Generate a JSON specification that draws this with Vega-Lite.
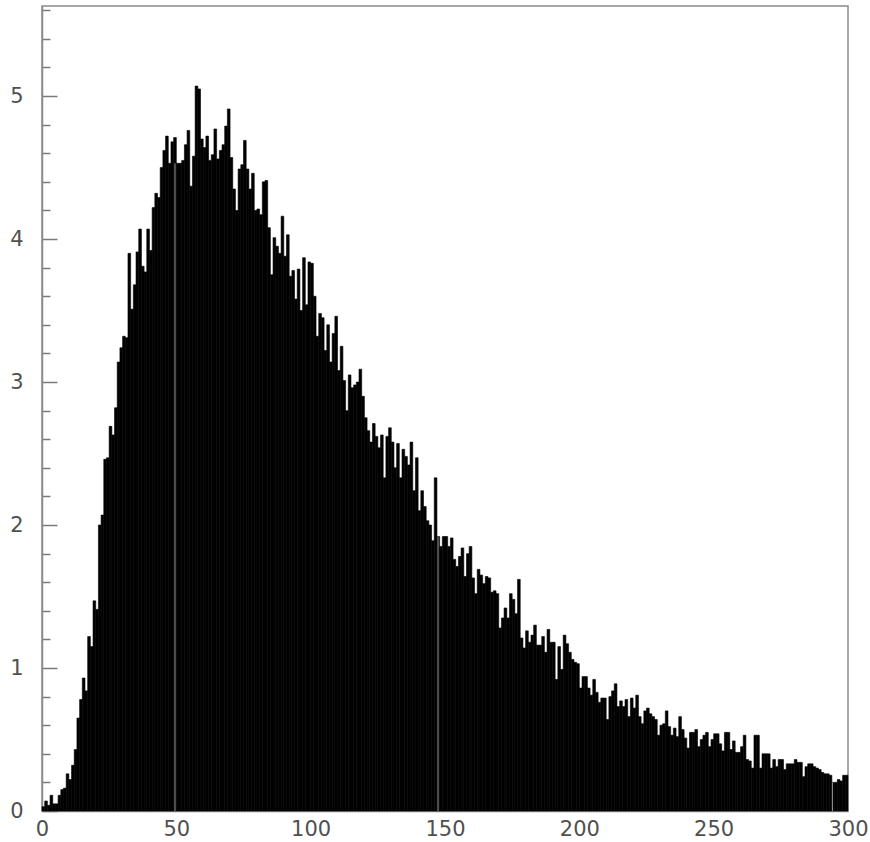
{
  "$schema": "https://vega.github.io/schema/vega-lite/v6.json",
  "width": 806,
  "height": 805,
  "autosize": {"type": "none"},
  "padding": {"left": 42, "top": 6, "right": 22, "bottom": 31},
  "background": "white",
  "config": {
    "view": {"stroke": "#8a8a8a", "strokeWidth": 1.5},
    "axis": {
      "labelFont": "DejaVu Sans",
      "labelFontSize": 21,
      "labelColor": "#505050",
      "domainColor": "#8a8a8a",
      "domainWidth": 1.5,
      "grid": false,
      "title": null,
      "labelOverlap": false
    }
  },
  "datasets": {
    "hist": [
      {"b":0,"e":1,"v":0.03},{"b":1,"e":2,"v":0.07},{"b":2,"e":3,"v":0.04},{"b":3,"e":4,"v":0.11},{"b":4,"e":5,"v":0.05},{"b":5,"e":6,"v":0.05},{"b":6,"e":7,"v":0.11},{"b":7,"e":8,"v":0.15},{"b":8,"e":9,"v":0.16},{"b":9,"e":10,"v":0.26},
      {"b":10,"e":11,"v":0.22},{"b":11,"e":12,"v":0.32},{"b":12,"e":13,"v":0.43},{"b":13,"e":14,"v":0.65},{"b":14,"e":15,"v":0.78},{"b":15,"e":16,"v":0.93},{"b":16,"e":17,"v":0.84},{"b":17,"e":18,"v":1.22},{"b":18,"e":19,"v":1.15},{"b":19,"e":20,"v":1.47},
      {"b":20,"e":21,"v":1.41},{"b":21,"e":22,"v":2.0},{"b":22,"e":23,"v":2.07},{"b":23,"e":24,"v":2.46},{"b":24,"e":25,"v":2.47},{"b":25,"e":26,"v":2.69},{"b":26,"e":27,"v":2.63},{"b":27,"e":28,"v":2.82},{"b":28,"e":29,"v":3.14},{"b":29,"e":30,"v":3.24},
      {"b":30,"e":31,"v":3.32},{"b":31,"e":32,"v":3.31},{"b":32,"e":33,"v":3.90},{"b":33,"e":34,"v":3.51},{"b":34,"e":35,"v":3.68},{"b":35,"e":36,"v":3.91},{"b":36,"e":37,"v":4.07},{"b":37,"e":38,"v":3.81},{"b":38,"e":39,"v":3.77},{"b":39,"e":40,"v":4.07},
      {"b":40,"e":41,"v":3.92},{"b":41,"e":42,"v":4.22},{"b":42,"e":43,"v":4.32},{"b":43,"e":44,"v":4.29},{"b":44,"e":45,"v":4.50},{"b":45,"e":46,"v":4.62},{"b":46,"e":47,"v":4.72},{"b":47,"e":48,"v":4.53},{"b":48,"e":49,"v":4.68},{"b":49,"e":50,"v":4.71},
      {"b":50,"e":51,"v":4.53},{"b":51,"e":52,"v":4.53},{"b":52,"e":53,"v":4.55},{"b":53,"e":54,"v":4.66},{"b":54,"e":55,"v":4.76},{"b":55,"e":56,"v":4.37},{"b":56,"e":57,"v":4.58},{"b":57,"e":58,"v":5.07},{"b":58,"e":59,"v":5.05},{"b":59,"e":60,"v":4.70},
      {"b":60,"e":61,"v":4.64},{"b":61,"e":62,"v":4.72},{"b":62,"e":63,"v":4.55},{"b":63,"e":64,"v":4.59},{"b":64,"e":65,"v":4.77},{"b":65,"e":66,"v":4.56},{"b":66,"e":67,"v":4.62},{"b":67,"e":68,"v":4.66},{"b":68,"e":69,"v":4.79},{"b":69,"e":70,"v":4.91},
      {"b":70,"e":71,"v":4.57},{"b":71,"e":72,"v":4.35},{"b":72,"e":73,"v":4.20},{"b":73,"e":74,"v":4.49},{"b":74,"e":75,"v":4.52},{"b":75,"e":76,"v":4.69},{"b":76,"e":77,"v":4.49},{"b":77,"e":78,"v":4.35},{"b":78,"e":79,"v":4.46},{"b":79,"e":80,"v":4.20},
      {"b":80,"e":81,"v":4.21},{"b":81,"e":82,"v":4.17},{"b":82,"e":83,"v":4.40},{"b":83,"e":84,"v":4.41},{"b":84,"e":85,"v":4.08},{"b":85,"e":86,"v":3.75},{"b":86,"e":87,"v":4.01},{"b":87,"e":88,"v":3.95},{"b":88,"e":89,"v":3.90},{"b":89,"e":90,"v":4.16},
      {"b":90,"e":91,"v":3.88},{"b":91,"e":92,"v":4.03},{"b":92,"e":93,"v":3.74},{"b":93,"e":94,"v":3.78},{"b":94,"e":95,"v":3.58},{"b":95,"e":96,"v":3.79},{"b":96,"e":97,"v":3.50},{"b":97,"e":98,"v":3.87},{"b":98,"e":99,"v":3.54},{"b":99,"e":100,"v":3.84},
      {"b":100,"e":101,"v":3.83},{"b":101,"e":102,"v":3.60},{"b":102,"e":103,"v":3.32},{"b":103,"e":104,"v":3.48},{"b":104,"e":105,"v":3.45},{"b":105,"e":106,"v":3.22},{"b":106,"e":107,"v":3.40},{"b":107,"e":108,"v":3.14},{"b":108,"e":109,"v":3.34},{"b":109,"e":110,"v":3.46},
      {"b":110,"e":111,"v":3.08},{"b":111,"e":112,"v":3.25},{"b":112,"e":113,"v":3.01},{"b":113,"e":114,"v":2.80},{"b":114,"e":115,"v":3.05},{"b":115,"e":116,"v":2.96},{"b":116,"e":117,"v":2.98},{"b":117,"e":118,"v":3.00},{"b":118,"e":119,"v":3.09},{"b":119,"e":120,"v":2.90},
      {"b":120,"e":121,"v":2.75},{"b":121,"e":122,"v":2.66},{"b":122,"e":123,"v":2.58},{"b":123,"e":124,"v":2.71},{"b":124,"e":125,"v":2.62},{"b":125,"e":126,"v":2.54},{"b":126,"e":127,"v":2.63},{"b":127,"e":128,"v":2.33},{"b":128,"e":129,"v":2.62},{"b":129,"e":130,"v":2.68},
      {"b":130,"e":131,"v":2.58},{"b":131,"e":132,"v":2.40},{"b":132,"e":133,"v":2.57},{"b":133,"e":134,"v":2.33},{"b":134,"e":135,"v":2.53},{"b":135,"e":136,"v":2.48},{"b":136,"e":137,"v":2.42},{"b":137,"e":138,"v":2.58},{"b":138,"e":139,"v":2.24},{"b":139,"e":140,"v":2.47},
      {"b":140,"e":141,"v":2.10},{"b":141,"e":142,"v":2.24},{"b":142,"e":143,"v":2.13},{"b":143,"e":144,"v":2.03},{"b":144,"e":145,"v":2.00},{"b":145,"e":146,"v":1.89},{"b":146,"e":147,"v":2.33},{"b":147,"e":148,"v":1.92},{"b":148,"e":149,"v":1.85},{"b":149,"e":150,"v":1.92},
      {"b":150,"e":151,"v":1.92},{"b":151,"e":152,"v":1.85},{"b":152,"e":153,"v":1.91},{"b":153,"e":154,"v":1.76},{"b":154,"e":155,"v":1.71},{"b":155,"e":156,"v":1.78},{"b":156,"e":157,"v":1.84},{"b":157,"e":158,"v":1.64},{"b":158,"e":159,"v":1.80},{"b":159,"e":160,"v":1.85},
      {"b":160,"e":161,"v":1.63},{"b":161,"e":162,"v":1.52},{"b":162,"e":163,"v":1.69},{"b":163,"e":164,"v":1.65},{"b":164,"e":165,"v":1.59},{"b":165,"e":166,"v":1.64},{"b":166,"e":167,"v":1.63},{"b":167,"e":168,"v":1.53},{"b":168,"e":169,"v":1.54},{"b":169,"e":170,"v":1.52},
      {"b":170,"e":171,"v":1.28},{"b":171,"e":172,"v":1.35},{"b":172,"e":173,"v":1.42},{"b":173,"e":174,"v":1.35},{"b":174,"e":175,"v":1.52},{"b":175,"e":176,"v":1.48},{"b":176,"e":177,"v":1.38},{"b":177,"e":178,"v":1.62},{"b":178,"e":179,"v":1.21},{"b":179,"e":180,"v":1.14},
      {"b":180,"e":181,"v":1.26},{"b":181,"e":182,"v":1.18},{"b":182,"e":183,"v":1.23},{"b":183,"e":184,"v":1.30},{"b":184,"e":185,"v":1.16},{"b":185,"e":186,"v":1.16},{"b":186,"e":187,"v":1.22},{"b":187,"e":188,"v":1.11},{"b":188,"e":189,"v":1.27},{"b":189,"e":190,"v":1.18},
      {"b":190,"e":191,"v":1.18},{"b":191,"e":192,"v":0.92},{"b":192,"e":193,"v":1.15},{"b":193,"e":194,"v":0.99},{"b":194,"e":195,"v":1.23},{"b":195,"e":196,"v":1.17},{"b":196,"e":197,"v":1.11},{"b":197,"e":198,"v":1.06},{"b":198,"e":199,"v":1.04},{"b":199,"e":200,"v":1.03},
      {"b":200,"e":201,"v":0.86},{"b":201,"e":202,"v":0.94},{"b":202,"e":203,"v":0.94},{"b":203,"e":204,"v":0.86},{"b":204,"e":205,"v":0.81},{"b":205,"e":206,"v":0.92},{"b":206,"e":207,"v":0.83},{"b":207,"e":208,"v":0.76},{"b":208,"e":209,"v":0.79},{"b":209,"e":210,"v":0.79},
      {"b":210,"e":211,"v":0.64},{"b":211,"e":212,"v":0.80},{"b":212,"e":213,"v":0.84},{"b":213,"e":214,"v":0.89},{"b":214,"e":215,"v":0.73},{"b":215,"e":216,"v":0.77},{"b":216,"e":217,"v":0.73},{"b":217,"e":218,"v":0.78},{"b":218,"e":219,"v":0.66},{"b":219,"e":220,"v":0.79},
      {"b":220,"e":221,"v":0.72},{"b":221,"e":222,"v":0.81},{"b":222,"e":223,"v":0.66},{"b":223,"e":224,"v":0.61},{"b":224,"e":225,"v":0.70},{"b":225,"e":226,"v":0.72},{"b":226,"e":227,"v":0.68},{"b":227,"e":228,"v":0.66},{"b":228,"e":229,"v":0.64},{"b":229,"e":230,"v":0.53},
      {"b":230,"e":231,"v":0.60},{"b":231,"e":232,"v":0.61},{"b":232,"e":233,"v":0.70},{"b":233,"e":234,"v":0.59},{"b":234,"e":235,"v":0.53},{"b":235,"e":236,"v":0.58},{"b":236,"e":237,"v":0.52},{"b":237,"e":238,"v":0.66},{"b":238,"e":239,"v":0.57},{"b":239,"e":240,"v":0.51},
      {"b":240,"e":241,"v":0.44},{"b":241,"e":242,"v":0.55},{"b":242,"e":243,"v":0.55},{"b":243,"e":244,"v":0.57},{"b":244,"e":245,"v":0.45},{"b":245,"e":246,"v":0.50},{"b":246,"e":247,"v":0.53},{"b":247,"e":248,"v":0.55},{"b":248,"e":249,"v":0.45},{"b":249,"e":250,"v":0.50},
      {"b":250,"e":251,"v":0.54},{"b":251,"e":252,"v":0.54},{"b":252,"e":253,"v":0.47},{"b":253,"e":254,"v":0.42},{"b":254,"e":255,"v":0.55},{"b":255,"e":256,"v":0.55},{"b":256,"e":257,"v":0.43},{"b":257,"e":258,"v":0.49},{"b":258,"e":259,"v":0.41},{"b":259,"e":260,"v":0.41},
      {"b":260,"e":261,"v":0.45},{"b":261,"e":262,"v":0.53},{"b":262,"e":263,"v":0.36},{"b":263,"e":264,"v":0.35},{"b":264,"e":265,"v":0.30},{"b":265,"e":266,"v":0.53},{"b":266,"e":267,"v":0.53},{"b":267,"e":268,"v":0.30},{"b":268,"e":269,"v":0.40},{"b":269,"e":270,"v":0.40},
      {"b":270,"e":271,"v":0.40},{"b":271,"e":272,"v":0.30},{"b":272,"e":273,"v":0.36},{"b":273,"e":274,"v":0.31},{"b":274,"e":275,"v":0.36},{"b":275,"e":276,"v":0.36},{"b":276,"e":277,"v":0.29},{"b":277,"e":278,"v":0.33},{"b":278,"e":279,"v":0.33},{"b":279,"e":280,"v":0.33},
      {"b":280,"e":281,"v":0.36},{"b":281,"e":282,"v":0.34},{"b":282,"e":283,"v":0.34},{"b":283,"e":284,"v":0.24},{"b":284,"e":285,"v":0.31},{"b":285,"e":286,"v":0.33},{"b":286,"e":287,"v":0.33},{"b":287,"e":288,"v":0.31},{"b":288,"e":289,"v":0.30},{"b":289,"e":290,"v":0.29},
      {"b":290,"e":291,"v":0.27},{"b":291,"e":292,"v":0.26},{"b":292,"e":293,"v":0.26},{"b":293,"e":294,"v":0.25},{"b":294,"e":295,"v":0.20},{"b":295,"e":296,"v":0.20},{"b":296,"e":297,"v":0.22},{"b":297,"e":298,"v":0.21},{"b":298,"e":299,"v":0.25},{"b":299,"e":300,"v":0.25}
    ],
    "seams": [
      {"b": 49.5, "v": 4.53},
      {"b": 147.4, "v": 1.92},
      {"b": 294.2, "v": 0.2}
    ]
  },
  "layer": [
    {
      "data": {"name": "hist"},
      "mark": {"type": "rect", "color": "black", "stroke": "black", "strokeWidth": 0.6},
      "encoding": {
        "x": {
          "field": "b",
          "type": "quantitative",
          "scale": {"domain": [0, 300], "nice": false, "zero": false},
          "axis": {
            "values": [0, 50, 100, 150, 200, 250, 300],
            "tickCount": 20,
            "ticks": false,
            "labelPadding": 7,
            "labelFlush": false,
            "format": "d"
          }
        },
        "x2": {"field": "e"},
        "y": {
          "field": "v",
          "type": "quantitative",
          "scale": {"domain": [0, 5.63], "nice": false},
          "axis": {
            "values": [0, 0.2, 0.4, 0.6, 0.8, 1, 1.2, 1.4, 1.6, 1.8, 2, 2.2, 2.4, 2.6, 2.8, 3, 3.2, 3.4, 3.6, 3.8, 4, 4.2, 4.4, 4.6, 4.8, 5, 5.2, 5.4, 5.6],
            "tickCount": 60,
            "labelExpr": "datum.value % 1 === 0 ? format(datum.value, 'd') : ''",
            "tickSize": {"condition": {"test": "datum.value % 1 === 0", "value": -15}, "value": -8},
            "tickColor": "#7a7a7a",
            "tickWidth": 1.5,
            "labelPadding": 34,
            "labelFlush": false
          }
        },
        "y2": {"datum": 0}
      }
    },
    {
      "data": {"name": "seams"},
      "mark": {"type": "rule", "color": "#9a9a9a", "strokeWidth": 1},
      "encoding": {
        "x": {"field": "b", "type": "quantitative"},
        "y": {"field": "v", "type": "quantitative"},
        "y2": {"datum": 0}
      }
    }
  ]
}
